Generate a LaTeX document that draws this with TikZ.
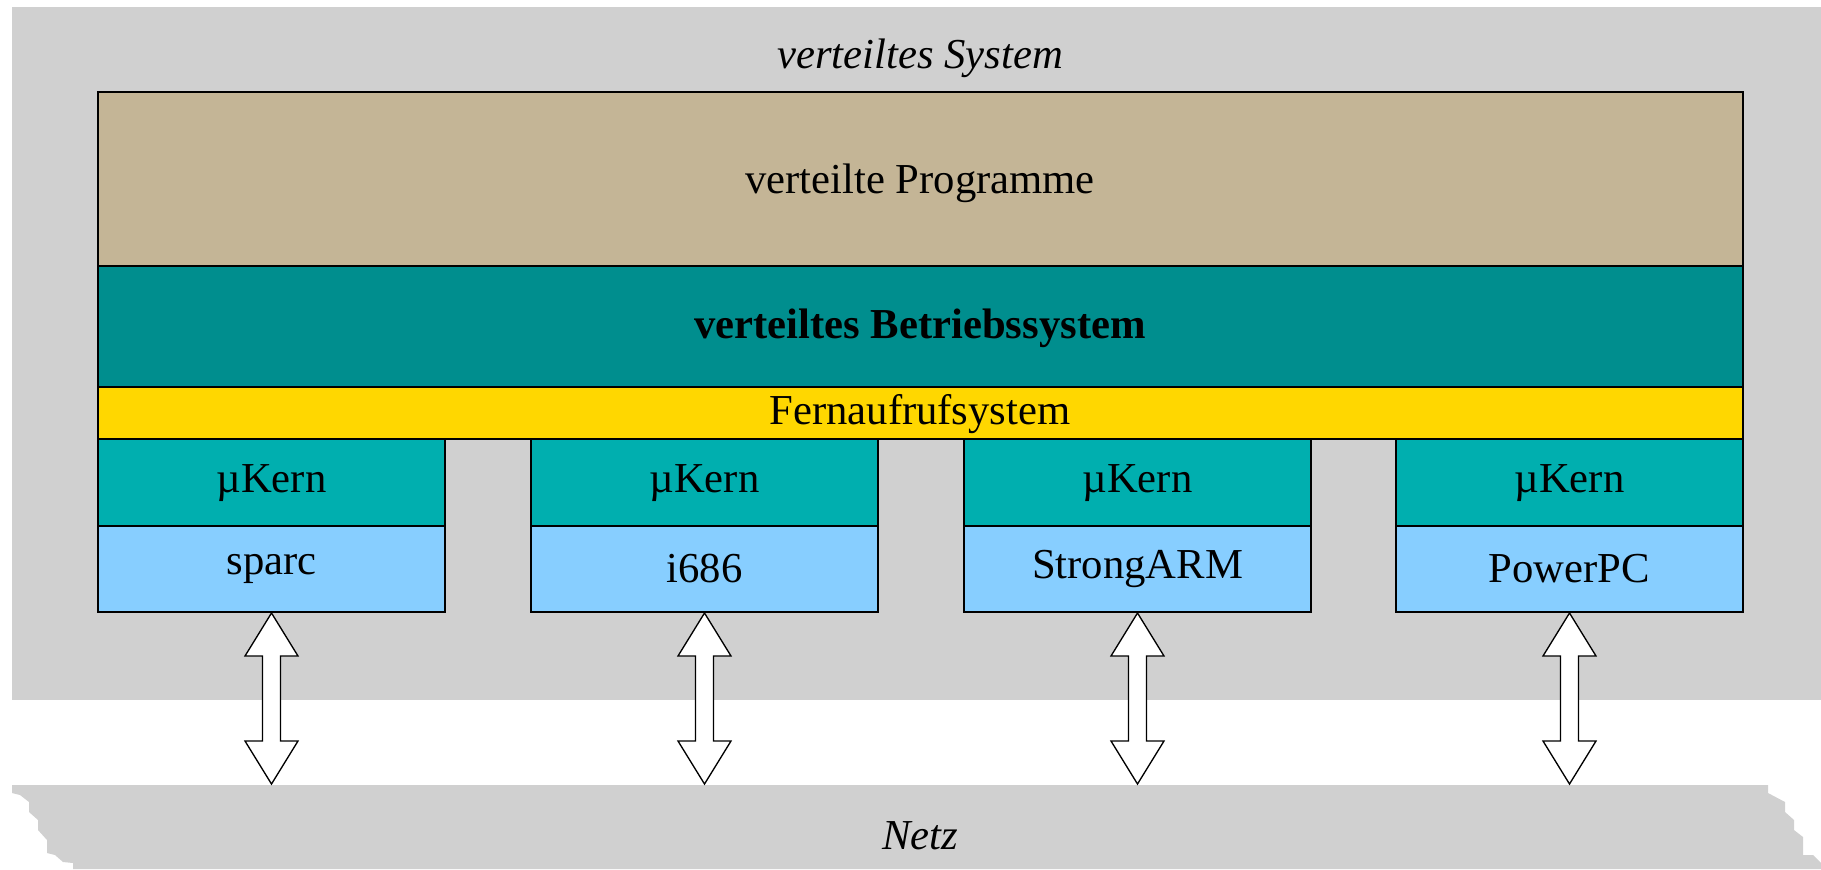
\documentclass[tikz,border=0pt]{standalone}
\usepackage{fontspec}
\setmainfont{Liberation Serif}
\definecolor{bggrey}{RGB}{208,208,208}
\definecolor{tan}{RGB}{196,181,150}
\definecolor{darkteal}{RGB}{0,142,142}
\definecolor{gold}{RGB}{255,215,0}
\definecolor{kernteal}{RGB}{0,175,175}
\definecolor{cpublue}{RGB}{135,206,255}
\begin{document}
\begin{tikzpicture}[x=0.75pt,y=-0.75pt,
  layer/.style={draw=black,line width=1pt},
  lbl/.style={font=\fontsize{32}{37}\selectfont,inner sep=0pt},
  dblarrow/.style={draw=black,fill=white,line width=1pt,line join=miter}]
\useasboundingbox (0,0) rectangle (1821,869);
% background of distributed system
\fill[bggrey] (12,7) rectangle (1821,700);
\node[lbl,font=\fontsize{32}{37}\selectfont\itshape] (sys) at (920,58) {verteiltes System};
% network band
\fill[bggrey] (12,785) -- (1768,785) -- (1768,793) -- (1785,802) -- (1785,812) -- (1794,820) -- (1794,830) -- (1803,837) -- (1803,855) -- (1813,855) -- (1821,863) -- (1821,869) -- (73,869) -- (73,863) -- (63,862) -- (55,855) -- (47,853) -- (47,840) -- (38,830) -- (38,820) -- (29,812) -- (29,802) -- (20,795) -- (12,793) -- cycle;
\node[lbl,font=\fontsize{32}{37}\selectfont\itshape] (netz) at (920,836) {Netz};
% layers
\filldraw[layer,fill=tan] (98,92) rectangle (1743,266);
\node[lbl] (prog) at (920,183) {verteilte Programme};
\filldraw[layer,fill=darkteal] (98,266) rectangle (1743,387);
\node[lbl,font=\fontsize{32}{37}\selectfont\bfseries] (bs) at (920,328) {verteiltes Betriebssystem};
\filldraw[layer,fill=gold] (98,387) rectangle (1743,439);
\node[lbl] (fern) at (920,414) {Fernaufrufsystem};
% columns
\foreach \x/\cpu/\n in {98/sparc/a,531/i686/b,964/StrongARM/c,1396/PowerPC/d}{
  \filldraw[layer,fill=kernteal] (\x,439) rectangle ++(347,87);
  \filldraw[layer,fill=cpublue] (\x,526) rectangle ++(347,86);
  \node[lbl] (k\n) at (\x+173.5,483) {µKern};
  \node[lbl] (p\n) at (\x+173.5,569) {\cpu};
  \coordinate (t\n) at (\x+173.5,613);
  \coordinate (u\n) at (\x+173.5,784);
  \draw[dblarrow] (t\n) -- ++(26.5,43) -- ++(-17.5,0) -- ++(0,85) -- ++(17.5,0) -- (u\n) -- ++(-26.5,-43) -- ++(17.5,0) -- ++(0,-85) -- ++(-17.5,0) -- cycle;
}
\end{tikzpicture}
\end{document}
